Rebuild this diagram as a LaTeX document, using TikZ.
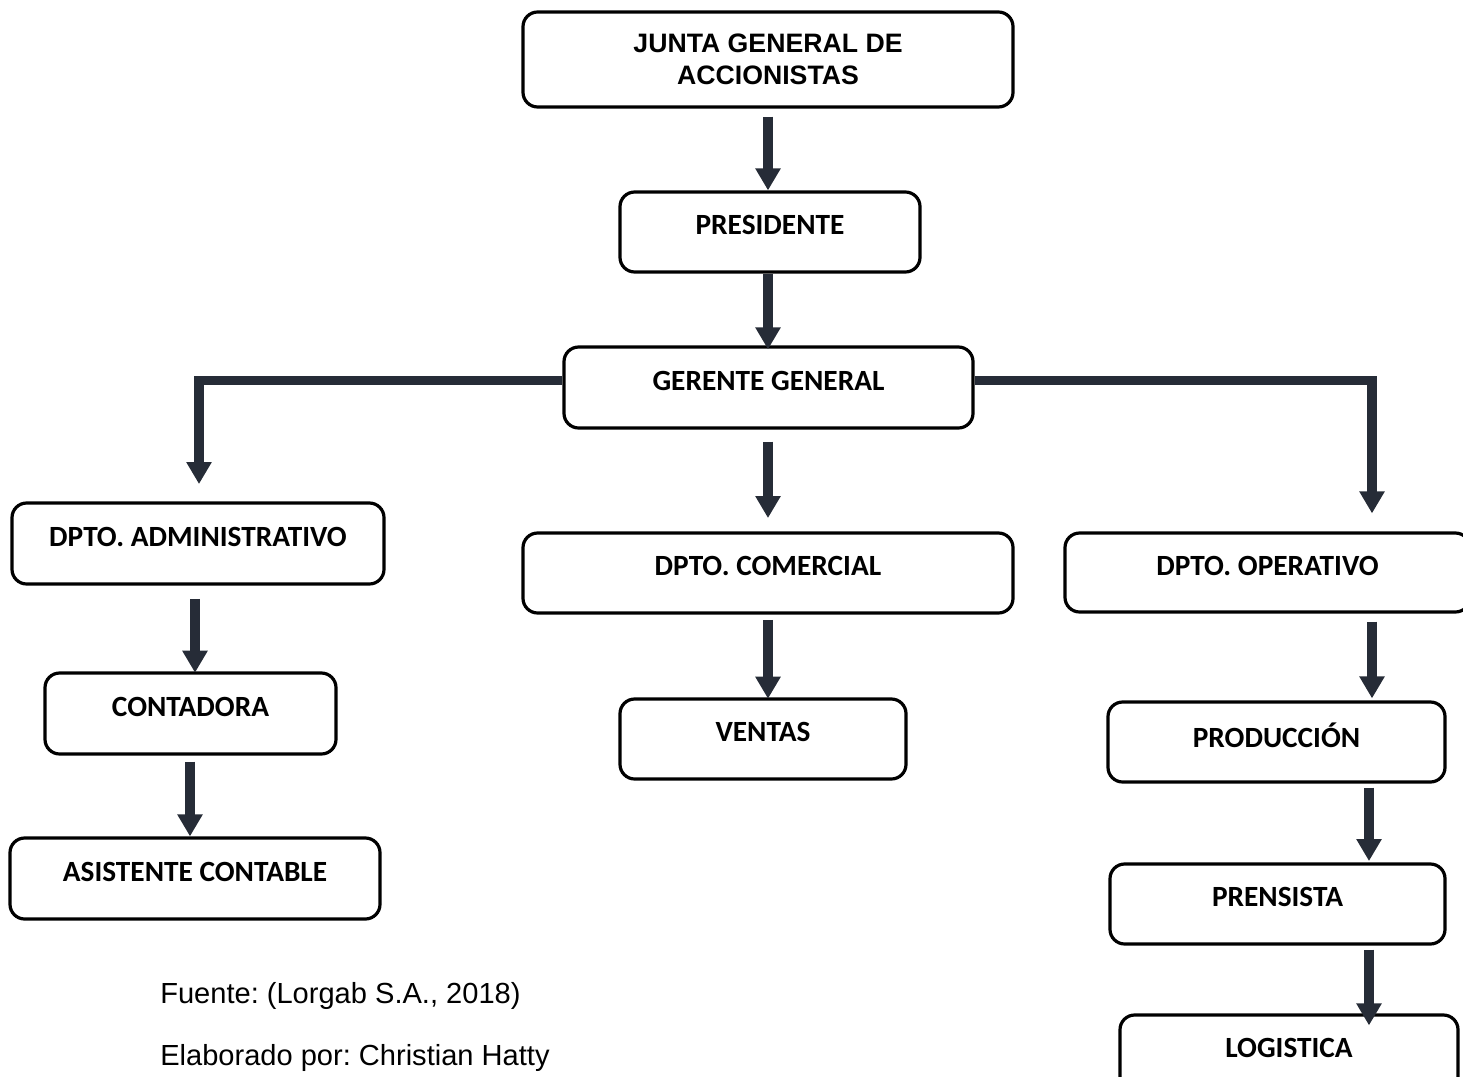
\documentclass[tikz,border=0pt]{standalone}
\usepackage{fontspec}
\setmainfont{Liberation Sans}
\newfontfamily\boxfont{Carlito}
\usetikzlibrary{arrows.meta}
\definecolor{arrowink}{HTML}{262C37}
\frenchspacing
\tikzset{
  orgbox/.style 2 args={draw=black, line width=2.4pt, rounded corners=11pt,
    minimum width=#1*0.75pt, minimum height=#2*0.75pt, inner sep=0pt},
  boxtext/.style={font=\boxfont\bfseries\fontsize{22}{26}\selectfont, yshift=5.2pt},
  headtext/.style={font=\bfseries\fontsize{20}{24}\selectfont, align=center},
  notetext/.style={font=\fontsize{21.8}{26}\selectfont, anchor=base west, inner sep=0pt},
  link/.style={draw=arrowink, line width=6.8pt,
    -{Triangle[width=18pt,length=16.5pt]}},
}
\begin{document}
\begin{tikzpicture}[x=0.75pt,y=-0.75pt]
\useasboundingbox (0,0) rectangle (1463,1077);

% boxes
\node[orgbox={490}{95}] (junta) at (768,59.5) {};
\node[headtext] at (junta.center) {JUNTA GENERAL DE\\ACCIONISTAS};
\node[orgbox={300}{80}] (pres) at (770,232)
  {}; \node[boxtext] at (pres.center) {PRESIDENTE};
\node[orgbox={409}{81}] (ger) at (768.5,387.5)
  {}; \node[boxtext] at (ger.center) {GERENTE GENERAL};
\node[orgbox={372}{81}] (adm) at (198,543.5)
  {}; \node[boxtext] at (adm.center) {DPTO. ADMINISTRATIVO};
\node[orgbox={490}{80}] (com) at (768,573)
  {}; \node[boxtext] at (com.center) {DPTO. COMERCIAL};
\node[orgbox={405}{79}] (ope) at (1267.5,572.5)
  {}; \node[boxtext] at (ope.center) {DPTO. OPERATIVO};
\node[orgbox={291}{81}] (cont) at (190.5,713.5)
  {}; \node[boxtext] at (cont.center) {CONTADORA};
\node[orgbox={286}{80}] (ven) at (763,739)
  {}; \node[boxtext] at (ven.center) {VENTAS};
\node[orgbox={337}{80}] (prod) at (1276.5,742)
  {}; \node[boxtext] at (prod.center) {PRODUCCIÓN};
\node[orgbox={370}{81}] (asis) at (195,878.5)
  {}; \node[boxtext] at (asis.center) {ASISTENTE CONTABLE};
\node[orgbox={335}{80}] (pren) at (1277.5,904)
  {}; \node[boxtext] at (pren.center) {PRENSISTA};
\node[orgbox={338}{80}] (logi) at (1289,1055)
  {}; \node[boxtext] at (logi.center) {LOGISTICA};

% connector columns and the branch level
\coordinate (midcol) at (768,0);
\coordinate (leftcol) at (199,0);
\coordinate (rightcol) at (1372,0);
\coordinate (admcol) at (195,0);
\coordinate (contcol) at (190,0);
\coordinate (opcol) at (1369,0);
\coordinate (branch) at (0,380.5);

% connectors
\draw[link, shorten <=6pt] (junta.south -| midcol) -- (pres.north -| midcol);
\draw[link, shorten >=-3pt] (pres.south -| midcol) -- (ger.north -| midcol);
\draw[link, shorten <=9pt, shorten >=10pt] (ger.south -| midcol) -- (com.north -| midcol);
\draw[link, shorten <=4pt, shorten >=-1pt] (com.south -| midcol) -- (ven.north -| midcol);
\draw[link, shorten >=13pt] (ger.west |- branch) -- (leftcol |- branch) -- (adm.north -| leftcol);
\draw[link, shorten >=13.5pt] (ger.east |- branch) -- (rightcol |- branch) -- (ope.north -| rightcol);
\draw[link, shorten <=10pt, shorten >=-1pt] (adm.south -| admcol) -- (cont.north -| admcol);
\draw[link, shorten <=4.5pt] (cont.south -| contcol) -- (asis.north -| contcol);
\draw[link, shorten <=6pt, shorten >=1.5pt] (ope.south -| rightcol) -- (prod.north -| rightcol);
\draw[link, shorten <=3pt, shorten >=1pt] (prod.south -| opcol) -- (pren.north -| opcol);
\draw[link, shorten <=3pt, shorten >=-9pt] (pren.south -| opcol) -- (logi.north -| opcol);

% source notes
\node[notetext] (src) at (160,1003) {Fuente: (Lorgab S.A., 2018)};
\node[notetext] (auth) at (160,1065) {Elaborado por: Christian Hatty};
\end{tikzpicture}
\end{document}
